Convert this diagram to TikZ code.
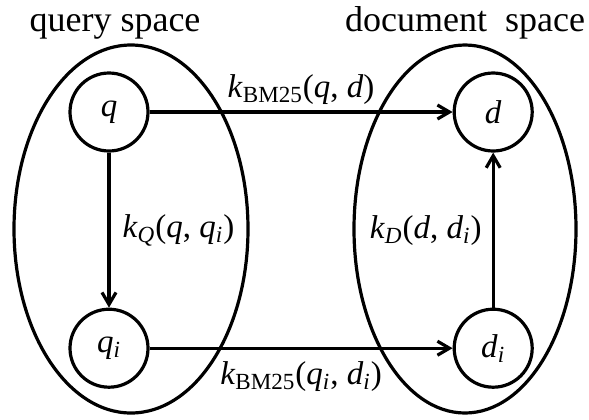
\documentclass[tikz,border=0pt]{standalone}
\usepackage{fontspec}
\setmainfont{Liberation Serif}
\usetikzlibrary{positioning, arrows.meta, shapes.geometric}

\begin{document}
\begin{tikzpicture}[
  x=0.5pt, y=-0.5pt,
  every node/.style={font=\fontsize{16.5}{19}\selectfont},
  >={Straight Barb[length=6pt, width=7pt]},
  termnode/.style={
    draw, circle, line width=1.6pt,
    minimum size=39pt, inner sep=0pt
  },
  spaceellipse/.style={
    draw, ellipse, line width=1.6pt, inner sep=0pt
  },
  spacelabel/.style={font=\fontsize{18}{21}\selectfont, inner sep=0pt},
  edgelabel/.style={inner sep=0pt},
  arrow/.style={->, line width=1.6pt}
]
\useasboundingbox (0,0) rectangle (589,419);

\node[termnode] (q) at (109,112) {\textit{q}};
\node[termnode, below=77.5pt of q] (qi) {\textit{q}\textsubscript{\textit{i}}};
\node[termnode, right=151.5pt of q] (d) {\textit{d}};
\node[termnode, below=77.5pt of d] (di) {\textit{d}\textsubscript{\textit{i}}};

\node[spaceellipse, minimum width=117pt, minimum height=184pt] (qspace) at (131,229) {};
\node[spaceellipse, minimum width=111pt, minimum height=184pt] (dspace) at (465,229) {};

\node[spacelabel, above=2pt of qspace, xshift=-8pt] (qtitle) {query space};
\node[spacelabel, above=2pt of dspace] (dtitle) {document\ \ space};

\draw[arrow] (q) -- node[edgelabel, above=3pt] {\textit{k}\textsubscript{BM25}(\textit{q}, \textit{d})} (d);
\draw[arrow] (qi) -- node[edgelabel, below=6pt] {\textit{k}\textsubscript{BM25}(\textit{q}\textsubscript{\textit{i}}, \textit{d}\textsubscript{\textit{i}})} (di);
\draw[arrow] (q) -- node[edgelabel, right=6pt] {\textit{k}\textsubscript{\textit{Q}}(\textit{q}, \textit{q}\textsubscript{\textit{i}})} (qi);
\draw[arrow] (di) -- node[edgelabel, left=5pt] {\textit{k}\textsubscript{\textit{D}}(\textit{d}, \textit{d}\textsubscript{\textit{i}})} (d);

\end{tikzpicture}
\end{document}
